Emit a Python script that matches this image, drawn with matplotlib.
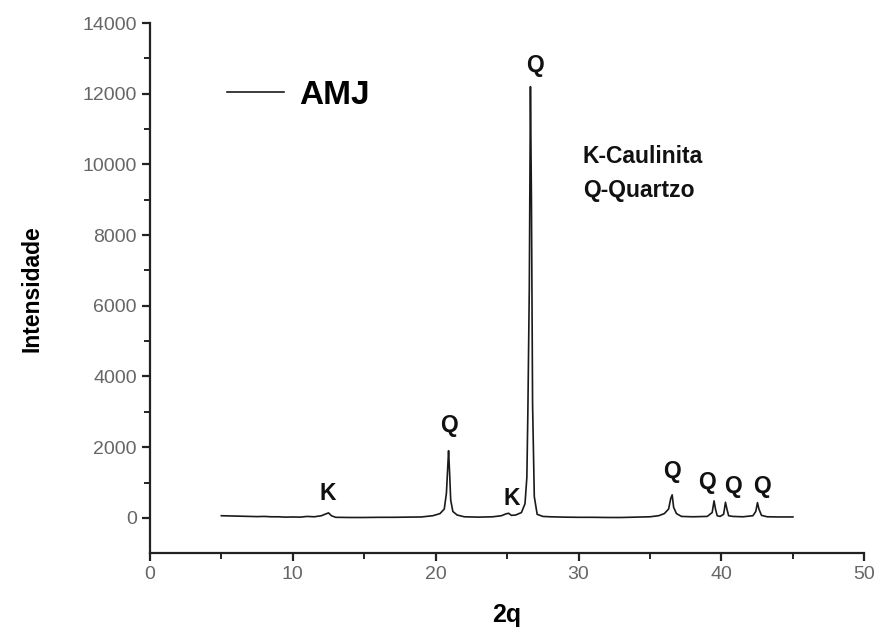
import matplotlib.pyplot as plt
import numpy as np

plt.rcParams['font.family'] = ['Liberation Sans', 'DejaVu Sans']

# XRD pattern
two_theta = [5.0, 5.5, 6.0, 6.5, 7.0, 7.5, 8.0, 8.5, 9.0, 9.5, 10.0, 10.5, 11.0,
             11.5, 12.0, 12.3, 12.5, 12.7, 13.0, 14.0, 15.0, 16.0, 17.0, 18.0,
             19.0, 19.8, 20.3, 20.6, 20.75, 20.85, 20.9, 20.97, 21.05, 21.2,
             21.5, 22.0, 23.0, 24.0, 24.6, 24.9, 25.1, 25.3, 25.6, 26.0, 26.25,
             26.38, 26.45, 26.55, 26.63, 26.7, 26.78, 26.9, 27.1, 27.5, 28.0,
             29.0, 30.0, 31.0, 32.0, 33.0, 34.0, 35.0, 35.6, 36.0, 36.3, 36.45,
             36.55, 36.65, 36.85, 37.2, 38.0, 39.0, 39.35, 39.48, 39.58, 39.7,
             39.9, 40.15, 40.28, 40.38, 40.5, 40.8, 41.5, 42.2, 42.4, 42.52,
             42.62, 42.8, 43.2, 44.0, 45.0]
intensity = [60, 55, 50, 45, 40, 35, 40, 30, 30, 20, 25, 20, 40,
             30, 60, 110, 140, 60, 15, 10, 10, 15, 15, 20,
             25, 60, 120, 250, 700, 1500, 1900, 1300, 500, 180,
             80, 30, 20, 30, 60, 110, 130, 70, 80, 150, 400,
             1150, 3000, 6500, 12200, 9000, 3200, 600, 100, 40, 30,
             20, 15, 15, 10, 10, 20, 30, 60, 120, 250, 550,
             650, 300, 120, 40, 30, 40, 150, 480, 250, 60,
             40, 100, 440, 250, 60, 40, 30, 60, 180, 430,
             250, 70, 30, 25, 25]

peak_labels = ['K', 'Q', 'K', 'Q', 'Q', 'Q', 'Q', 'Q']
label_x = [12.45, 20.9, 25.3, 26.95, 36.55, 39.0, 40.8, 42.85]
label_y = [700, 2600, 560, 12800, 1300, 990, 880, 900]

fig = plt.figure(figsize=(8.82, 6.41), dpi=100)
ax = fig.add_axes([0.170, 0.137, 0.810, 0.827])

ax.plot(two_theta, intensity, color='#1a1a1a', linewidth=1.2, label='AMJ')

for lab, lx, ly in zip(peak_labels, label_x, label_y):
    ax.text(lx, ly, lab, ha='center', va='center', fontsize=16.5,
            fontweight='bold', color='#111111')

ax.text(30.3, 9750, 'K-Caulinita\nQ-Quartzo', ha='left', va='center',
        fontsize=16.5, fontweight='bold', color='#111111', linespacing=1.6)

ax.set_xlim(0, 50)
ax.set_ylim(-1000, 14000)
ax.set_xticks(np.arange(0, 51, 10))
ax.set_xticks(np.arange(5, 50, 10), minor=True)
ax.set_yticks(np.arange(0, 14001, 2000))
ax.set_yticks(np.arange(1000, 14000, 2000), minor=True)

for side in ['top', 'right']:
    ax.spines[side].set_visible(False)
for side in ['left', 'bottom']:
    ax.spines[side].set_linewidth(1.6)
    ax.spines[side].set_color('#222222')

ax.tick_params(which='major', direction='out', length=6, width=1.6,
               labelsize=14, labelcolor='#666666', color='#222222')
ax.tick_params(which='minor', direction='out', length=4, width=1.4,
               color='#222222')

ax.set_xlabel('2q', fontsize=18, fontweight='bold', labelpad=14)
ax.set_ylabel('Intensidade', fontsize=16.5, fontweight='bold', labelpad=28)

ax.legend(loc='center left', bbox_to_anchor=(0.108, 0.864), frameon=False,
          borderaxespad=0, borderpad=0, handlelength=1.7, handletextpad=0.45,
          prop={'size': 24, 'weight': 'bold'})

fig.savefig('out.png', dpi=100)
